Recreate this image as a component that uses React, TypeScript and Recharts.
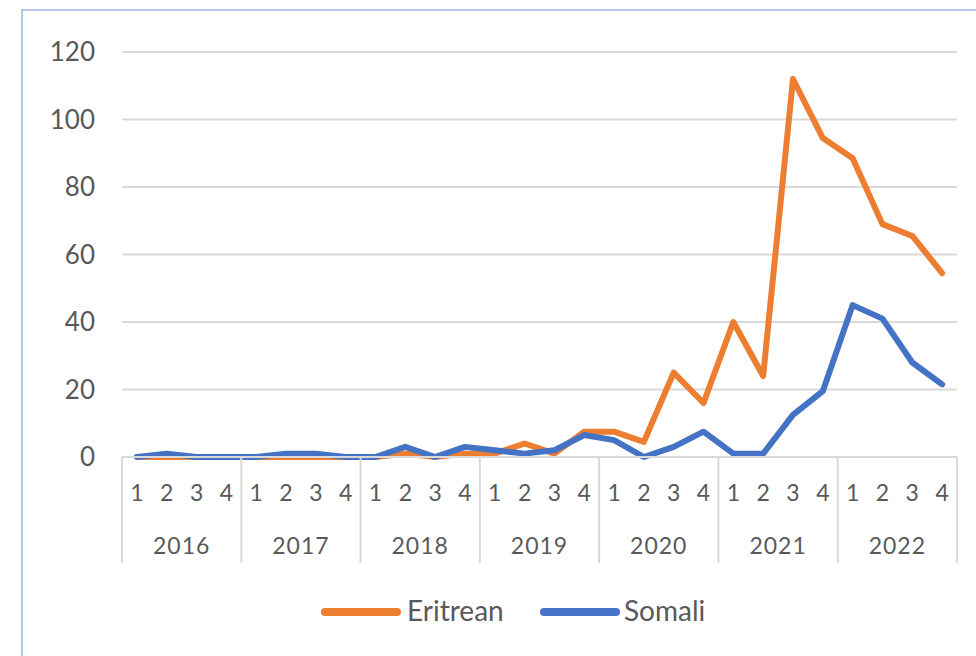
import { LineChart, Line, XAxis, YAxis, CartesianGrid, Legend } from 'recharts';

const years = ['2016', '2017', '2018', '2019', '2020', '2021', '2022'];
const quarters = ['1', '2', '3', '4'];
const eritrean = [0, 0, 0, 0, 0, 0, 0, 0, 0, 1, 0, 1, 1, 4, 1, 7.5, 7.5, 4.5, 25, 16, 40, 24, 112, 94.5, 88.5, 69, 65.5, 54.5];
const somali = [0, 1, 0, 0, 0, 1, 1, 0, 0, 3, 0, 3, 2, 1, 2, 6.5, 5, 0, 3, 7.5, 1, 1, 12.5, 19.5, 45, 41, 28, 21.5];
const yTicks = [0, 20, 40, 60, 80, 100, 120];

const data = years.flatMap((year, yi) =>
  quarters.map((q, qi) => ({
    key: `${year}-${q}`,
    year,
    quarter: q,
    Eritrean: eritrean[yi * 4 + qi],
    Somali: somali[yi * 4 + qi],
  }))
);

const CHART_W = 976;
const CHART_H = 656;
const PLOT_LEFT = 122;
const PLOT_RIGHT = 957;
const BAND = (PLOT_RIGHT - PLOT_LEFT) / data.length;
const TEXT = '#595959';
const GRID = '#D9D9D9';

const QuarterTick = (props: any) => {
  const { x, y, payload } = props;
  const i = payload.index ?? props.index;
  const row = data[i];
  return (
    <g>
      <text x={x} y={y + 44} textAnchor="middle" fill={TEXT} fontSize={23}>
        {row.quarter}
      </text>
      {i % 4 === 0 && (
        <line x1={x - BAND / 2} x2={x - BAND / 2} y1={y} y2={y + 106} stroke={GRID} strokeWidth={2} />
      )}
      {i === data.length - 1 && (
        <line x1={x + BAND / 2} x2={x + BAND / 2} y1={y} y2={y + 106} stroke={GRID} strokeWidth={2} />
      )}
      {i % 4 === 1 && (
        <text x={x + BAND / 2} y={y + 97} textAnchor="middle" fill={TEXT} fontSize={23} letterSpacing={1}>
          {row.year}
        </text>
      )}
    </g>
  );
};

const LegendContent = () => (
  <div style={{ position: 'relative', height: 60, fontFamily: 'Lato', fontSize: 28, color: TEXT }}>
    <div style={{ position: 'absolute', left: 321, top: 46, width: 80, height: 8, borderRadius: 4, background: '#ED7D31' }} />
    <div style={{ position: 'absolute', left: 407, top: 31 }}>Eritrean</div>
    <div style={{ position: 'absolute', left: 540, top: 46, width: 80, height: 8, borderRadius: 4, background: '#4472C4' }} />
    <div style={{ position: 'absolute', left: 624, top: 31 }}>Somali</div>
  </div>
);

export default function App() {
  return (
    <div style={{ position: 'absolute', left: 0, top: 0, width: CHART_W, height: CHART_H, overflow: 'hidden', background: '#fff', fontFamily: 'Lato' }}>
      <div style={{ position: 'absolute', left: 21, top: 9, width: 1100, height: 800, border: '2px solid #B4C7E7' }} />
      <div style={{ position: 'absolute', left: 0, top: 0 }}>
        <LineChart width={CHART_W} height={CHART_H} data={data} margin={{ top: 52, right: CHART_W - PLOT_RIGHT, bottom: 34, left: 0 }}>
          <CartesianGrid vertical={false} stroke={GRID} strokeWidth={2} />
          <XAxis
            dataKey="key"
            scale="band"
            interval={0}
            height={105}
            tickLine={false}
            tickSize={0}
            tickMargin={0}
            axisLine={{ stroke: GRID, strokeWidth: 2 }}
            tick={<QuarterTick />}
          />
          <YAxis
            width={PLOT_LEFT}
            domain={[0, 120]}
            ticks={yTicks}
            axisLine={false}
            tickLine={false}
            tickSize={0}
            tickMargin={27}
            tick={{ fill: TEXT, fontSize: 26 }}
          />
          <Legend verticalAlign="bottom" content={<LegendContent />} />
          <Line type="linear" dataKey="Eritrean" stroke="#ED7D31" strokeWidth={6} strokeLinejoin="round" strokeLinecap="round" dot={false} activeDot={false} isAnimationActive={false} />
          <Line type="linear" dataKey="Somali" stroke="#4472C4" strokeWidth={6} strokeLinejoin="round" strokeLinecap="round" dot={false} activeDot={false} isAnimationActive={false} />
        </LineChart>
      </div>
    </div>
  );
}
